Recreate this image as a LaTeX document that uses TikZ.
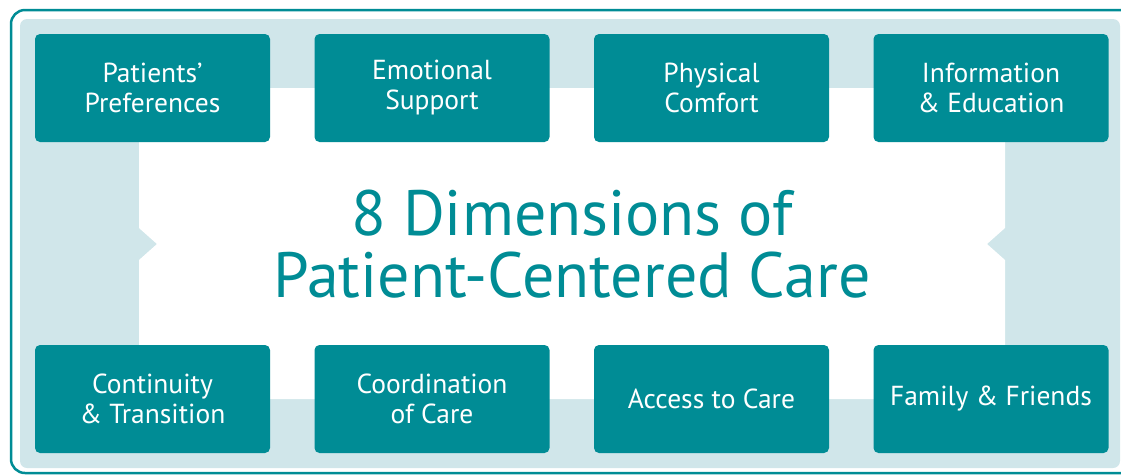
\documentclass[tikz,border=0pt]{standalone}
\usepackage{fontspec}
\setmainfont{PT Sans}
\definecolor{careteal}{HTML}{008C95}
\definecolor{careblue}{HTML}{D0E6EA}

\begin{document}
\begin{tikzpicture}[x=1pt,y=-1pt,
    dimbox/.style={fill=careteal, rounded corners=5pt, minimum width=235pt,
      minimum height=108pt, text=white, align=center,
      font=\fontsize{27.5}{30}\selectfont}]
    \useasboundingbox (0,0) rectangle (1121,475);
    \clip (0,0) rectangle (1121,475);
    % frame
    \draw[careteal, line width=2.5pt, rounded corners=14pt] (11,10) rectangle (1150,473);
    \fill[careblue, rounded corners=7pt] (20,19) rectangle (1120,468);
    % white centre with notches
    \fill[white] (139,88) -- (1005,88) -- (1005,228) -- (987,244) -- (1005,260)
      -- (1005,399) -- (139,399) -- (139,260) -- (157,244) -- (139,228) -- cycle;
    % top row
    \node[dimbox] (pref) at (152.5,88) {Patients’\\Preferences};
    \node[dimbox] (emot) at (432,88) {Emotional\\Support};
    \node[dimbox] (phys) at (711.5,88) {Physical\\Comfort};
    \node[dimbox] (info) at (991,88) {Information\\\& Education};
    % bottom row
    \node[dimbox] (cont) at (152.5,399) {Continuity\\\& Transition};
    \node[dimbox] (coord) at (432,399) {Coordination\\of Care};
    \node[dimbox] (access) at (711.5,399) {Access to Care};
    \node[dimbox] (family) at (991,399) {Family \& Friends};
    % title
    \node[text=careteal, align=center, font=\fontsize{64}{62}\selectfont] (title)
      at (572,244) {8 Dimensions of\\Patient-Centered Care};
\end{tikzpicture}
\end{document}
